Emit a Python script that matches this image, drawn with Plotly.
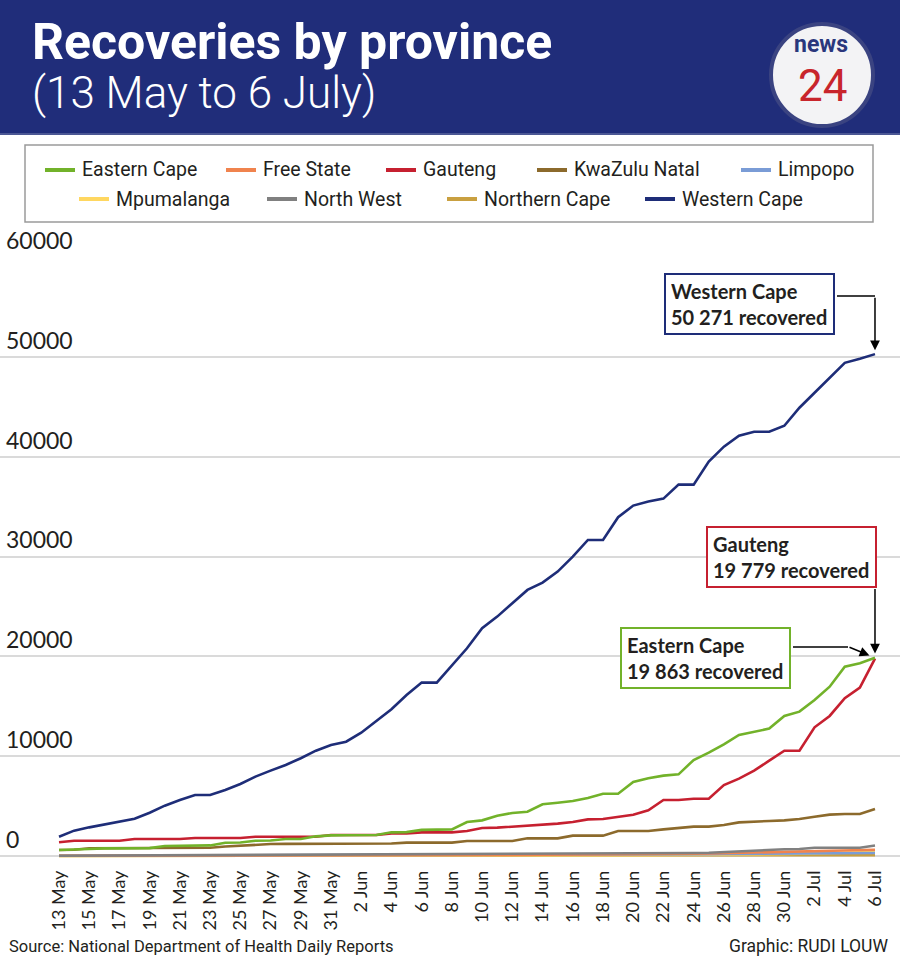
import pandas as pd
import plotly.graph_objects as go

# ---------------- data ----------------
dates = pd.date_range("2020-05-13", "2020-07-06", freq="D")
tick_dates = list(dates[::2])
tick_labels = [f"{d.day} {d.strftime('%b')}" for d in tick_dates]
y_ticks = [0, 10000, 20000, 30000, 40000, 50000, 60000]
y_tick_labels = [str(v) for v in y_ticks]

western_cape = [1930, 2540, 2870, 3170, 3470, 3740, 4340, 5040, 5610, 6110,
                6110, 6610, 7210, 7950, 8550, 9120, 9790, 10550, 11120, 11450,
                12350, 13560, 14700, 16130, 17370, 17370, 19100, 20810, 22810, 23980,
                25320, 26650, 27390, 28490, 29990, 31660, 31660, 33930, 35100, 35500,
                35800, 37200, 37200, 39500, 41000, 42100, 42500, 42500, 43100, 44900,
                46400, 47900, 49400, 49800, 50271]
eastern_cape = [600, 620, 700, 760, 770, 780, 790, 1000, 1020, 1040,
                1060, 1330, 1350, 1530, 1560, 1700, 1710, 1970, 2070, 2080,
                2090, 2100, 2370, 2390, 2620, 2640, 2670, 3410, 3570, 4040,
                4310, 4440, 5180, 5340, 5510, 5810, 6240, 6240, 7410, 7780,
                8050, 8180, 9620, 10350, 11190, 12120, 12460, 12760, 14030, 14460,
                15630, 16960, 18970, 19310, 19863]
gauteng = [1370, 1530, 1530, 1530, 1530, 1700, 1700, 1700, 1700, 1800,
           1800, 1800, 1800, 1930, 1930, 1930, 1930, 1930, 2100, 2100,
           2100, 2100, 2270, 2270, 2370, 2370, 2370, 2500, 2800, 2840,
           2940, 2970, 3110, 3240, 3410, 3670, 3710, 3940, 4140, 4580,
           5610, 5610, 5740, 5740, 7110, 7750, 8550, 9550, 10550, 10550,
           12890, 14030, 15800, 16860, 19779]
kwazulu_natal = [600, 620, 770, 780, 780, 790, 790, 800, 800, 810,
                 820, 950, 1050, 1150, 1200, 1210, 1210, 1220, 1220, 1230,
                 1230, 1240, 1250, 1340, 1340, 1340, 1340, 1500, 1500, 1500,
                 1500, 1770, 1770, 1770, 2040, 2040, 2040, 2500, 2500, 2500,
                 2670, 2800, 2940, 2940, 3110, 3370, 3410, 3510, 3570, 3710,
                 3940, 4140, 4210, 4210, 4710]
north_west = [30, 35, 40, 45, 50, 55, 60, 65, 70, 75,
              80, 85, 90, 95, 100, 110, 120, 130, 135, 140,
              145, 150, 155, 160, 165, 170, 175, 180, 185, 190,
              190, 195, 195, 200, 200, 205, 205, 210, 210, 215,
              220, 260, 300, 330, 400, 530, 560, 620, 670, 700,
              830, 830, 830, 830, 1060]
free_state = [20, 20, 22, 24, 26, 28, 30, 32, 34, 36,
              38, 40, 42, 44, 46, 48, 50, 52, 54, 56,
              58, 60, 62, 70, 75, 80, 85, 90, 95, 100,
              105, 110, 115, 120, 125, 130, 140, 150, 160, 170,
              180, 200, 220, 250, 280, 320, 360, 400, 450, 480,
              520, 540, 560, 580, 620]
mpumalanga = [10, 10, 12, 12, 14, 14, 16, 16, 18, 18,
              20, 20, 22, 22, 24, 24, 26, 26, 28, 28,
              30, 30, 32, 34, 36, 38, 40, 42, 44, 46,
              48, 50, 55, 60, 65, 70, 75, 80, 85, 90,
              95, 100, 110, 120, 130, 150, 170, 190, 210, 240,
              270, 300, 330, 360, 400]
limpopo = [30, 32, 34, 36, 38, 40, 42, 44, 46, 48,
           50, 52, 54, 56, 58, 60, 62, 64, 66, 68,
           70, 72, 74, 76, 78, 80, 85, 90, 95, 100,
           105, 110, 115, 120, 125, 130, 135, 140, 145, 150,
           160, 170, 180, 190, 200, 210, 220, 230, 240, 250,
           260, 270, 280, 290, 300]
northern_cape = [5, 5, 6, 6, 7, 7, 8, 8, 9, 9,
                 10, 10, 11, 11, 12, 12, 13, 13, 14, 14,
                 15, 15, 16, 16, 17, 17, 18, 18, 19, 19,
                 20, 21, 22, 23, 24, 25, 26, 27, 28, 29,
                 30, 32, 34, 36, 38, 40, 45, 50, 55, 60,
                 65, 70, 75, 80, 90]

province_names = ["Eastern Cape", "Free State", "Gauteng", "KwaZulu Natal", "Limpopo",
                  "Mpumalanga", "North West", "Northern Cape", "Western Cape"]
province_values = [eastern_cape, free_state, gauteng, kwazulu_natal, limpopo,
                   mpumalanga, north_west, northern_cape, western_cape]
province_colors = ["#72B22A", "#F0834E", "#C62030", "#8C6A2C", "#7A9CD6",
                   "#FFD760", "#808080", "#C9A040", "#1E2D78"]

# ---------------- layout helpers (pixel -> paper) ----------------
W, H = 900, 963
PLOT_TOP, PLOT_BOTTOM = 257, 858


def px(x):
    return x / W


def py(y):
    return (PLOT_BOTTOM - y) / (PLOT_BOTTOM - PLOT_TOP)


NARROW = "Roboto, Liberation Sans, Arial, sans-serif"
LATO = "Lato, sans-serif"
TEXT = "#231F20"

fig = go.Figure()

draw_order = [7, 5, 4, 1, 6, 3, 2, 0, 8]
for i in draw_order:
    fig.add_trace(go.Scatter(
        x=dates, y=province_values[i], mode="lines", name=province_names[i],
        line=dict(color=province_colors[i], width=2.6), showlegend=False,
        hoverinfo="x+y+name"))

shapes = []
annotations = []

# header band
shapes.append(dict(type="rect", xref="paper", yref="paper", x0=0, x1=1,
                   y0=py(134), y1=py(0), fillcolor="#202D7A", line=dict(width=0)))
shapes.append(dict(type="line", xref="paper", yref="paper", x0=0, x1=1,
                   y0=py(134), y1=py(134), line=dict(color="#4B5794", width=2)))
annotations.append(dict(xref="paper", yref="paper", x=px(30), y=py(42),
                        xanchor="left", yanchor="middle", showarrow=False,
                        text="<b>Recoveries by province</b>",
                        font=dict(family=NARROW, size=50, color="white")))
annotations.append(dict(xref="paper", yref="paper", x=px(30), y=py(93),
                        xanchor="left", yanchor="middle", showarrow=False,
                        text="(13 May to 6 July)",
                        font=dict(family=NARROW, size=44, color="white", weight=300)))
# logo
shapes.append(dict(type="circle", xref="paper", yref="paper", x0=px(771), x1=px(873),
                   y0=py(126), y1=py(24), fillcolor="#F3F3F5",
                   line=dict(color="#3A4381", width=4)))
annotations.append(dict(xref="paper", yref="paper", x=px(821), y=py(44),
                        xanchor="center", yanchor="middle", showarrow=False,
                        text="<b>news</b>",
                        font=dict(family=NARROW, size=23, color="#2A377C")))
annotations.append(dict(xref="paper", yref="paper", x=px(822), y=py(86),
                        xanchor="center", yanchor="middle", showarrow=False,
                        text="24",
                        font=dict(family=NARROW, size=44, color="#C8252C")))

# legend box
shapes.append(dict(type="rect", xref="paper", yref="paper", x0=px(25), x1=px(873),
                   y0=py(222), y1=py(145), fillcolor="white",
                   line=dict(color="#9A9A9A", width=1.5)))
legend_slots = [(45, 170), (226, 170), (386, 170), (537, 170), (741, 170),
                (79, 199), (267, 199), (447, 199), (645, 199)]
for (lx, ly), name, col in zip(legend_slots, province_names, province_colors):
    shapes.append(dict(type="line", xref="paper", yref="paper",
                       x0=px(lx), x1=px(lx + 30), y0=py(ly), y1=py(ly),
                       line=dict(color=col, width=4)))
    annotations.append(dict(xref="paper", yref="paper", x=px(lx + 35), y=py(ly),
                            xanchor="left", yanchor="middle", showarrow=False,
                            text=name, font=dict(family=NARROW, size=19.5, color=TEXT)))

# callout boxes
callouts = [
    ("Western Cape", western_cape[-1], "#1E2D78", 664, 273),
    ("Gauteng", gauteng[-1], "#C62030", 706, 526),
    ("Eastern Cape", eastern_cape[-1], "#72B22A", 620, 627),
]
for name, val, col, bx, by in callouts:
    num = f"{val:,}".replace(",", " ")
    annotations.append(dict(xref="paper", yref="paper", x=px(bx), y=py(by),
                            xanchor="left", yanchor="top", showarrow=False,
                            text=f"<b>{name}</b><br><b>{num} recovered</b>",
                            align="left", width=157, height=48,
                            bgcolor="white", bordercolor=col, borderwidth=2, borderpad=5,
                            font=dict(family=LATO, size=20, color=TEXT)))

# connectors and arrows
shapes.append(dict(type="line", xref="paper", yref="paper", x0=px(837), x1=px(875),
                   y0=py(296), y1=py(296), line=dict(color="black", width=1.5)))
shapes.append(dict(type="line", xref="paper", yref="paper", x0=px(793), x1=px(848),
                   y0=py(647), y1=py(647), line=dict(color="black", width=1.5)))
arrow_common = dict(xref="x", yref="y", text="", showarrow=True, arrowhead=2,
                    arrowsize=1.3, arrowwidth=1.5, arrowcolor="black")
annotations.append(dict(x=dates[-1], y=western_cape[-1], ax=0, ay=-58, standoff=4,
                        **arrow_common))
annotations.append(dict(x=dates[-1], y=gauteng[-1], ax=0, ay=-71, standoff=5,
                        **arrow_common))
annotations.append(dict(x=dates[-1], y=eastern_cape[-1], ax=-27, ay=-11, standoff=6,
                        **arrow_common))

# footer
annotations.append(dict(xref="paper", yref="paper", x=px(7), y=py(946),
                        xanchor="left", yanchor="middle", showarrow=False,
                        text="Source: National Department of Health Daily Reports",
                        font=dict(family=NARROW, size=16.5, color=TEXT)))
annotations.append(dict(xref="paper", yref="paper", x=px(890), y=py(946),
                        xanchor="right", yanchor="middle", showarrow=False,
                        text="Graphic: RUDI LOUW",
                        font=dict(family=NARROW, size=17.5, color=TEXT)))

day = pd.Timedelta(days=1)
fig.update_layout(
    width=W, height=H,
    margin=dict(l=0, r=0, t=PLOT_TOP, b=H - PLOT_BOTTOM, pad=0),
    paper_bgcolor="white", plot_bgcolor="white",
    shapes=shapes, annotations=annotations,
    xaxis=dict(type="date", range=[dates[0] - 3.905 * day, dates[-1] + 1.655 * day],
               tickmode="array", tickvals=tick_dates, ticktext=tick_labels,
               tickangle=-90, tickfont=dict(family=LATO, size=18, color=TEXT),
               showgrid=False, showline=False, zeroline=False, ticks="",
               ticklabelstandoff=8, fixedrange=True),
    yaxis=dict(range=[-200, 60000], tickmode="array", tickvals=y_ticks,
               ticktext=y_tick_labels, ticklabelposition="inside top",
               ticklabeloverflow="allow", ticklabelstandoff=3,
               tickfont=dict(family=LATO, size=23, color=TEXT),
               showgrid=True, gridcolor="#DADADA", gridwidth=1.5,
               zeroline=False, showline=False, ticks="", fixedrange=True),
    showlegend=False,
)

fig.write_html("out.html")
